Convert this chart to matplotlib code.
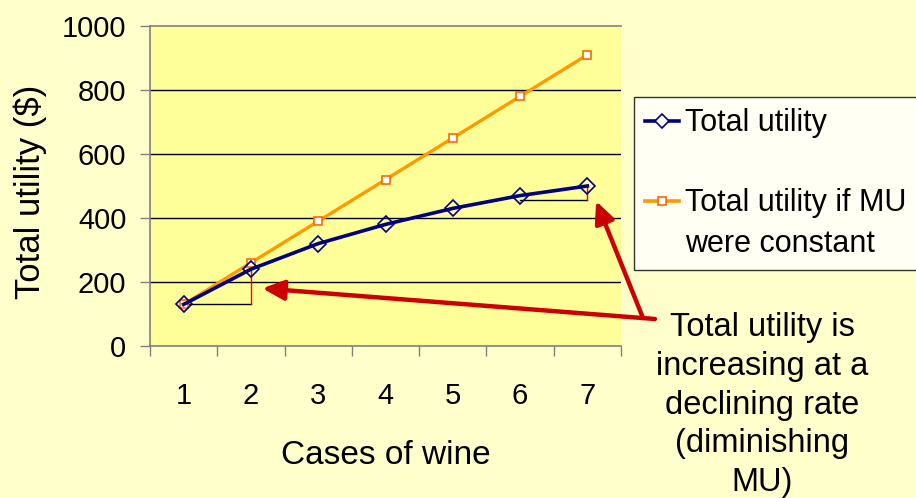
import matplotlib
matplotlib.use("Agg")
import matplotlib.pyplot as plt
from matplotlib.lines import Line2D

plt.rcParams['font.family'] = ['Liberation Sans', 'DejaVu Sans']

# Data
cases = [1, 2, 3, 4, 5, 6, 7]
total_utility = [130, 240, 320, 380, 430, 470, 500]
total_utility_constant_mu = [130, 260, 390, 520, 650, 780, 910]
y_ticks = [0, 200, 400, 600, 800, 1000]

# Slope triangles (start case, end case, base level, top level)
triangle_low = (1, 2, 130, 240)
triangle_high = (6, 7, 455, 500)

W, H = 916, 498
fig = plt.figure(figsize=(W / 100, H / 100), dpi=100)
fig.patch.set_facecolor('#FFFFCC')

ax = fig.add_axes([150 / W, 1 - 346 / H, (621 - 150) / W, (346 - 26) / H])
ax.set_facecolor('#FFFF99')

ax.set_xlim(0.5, 7.5)
ax.set_ylim(0, 1000)

# Gridlines
for yv in y_ticks[1:-1]:
    ax.axhline(yv, color='black', lw=1.0, zorder=1)

# Slope triangles
for (x0, x1, ylo, yhi) in (triangle_low, triangle_high):
    ax.plot([x0, x1], [ylo, ylo], color='black', lw=1.0, zorder=2)
    ax.plot([x1, x1], [ylo, yhi], color='#FF0000', lw=1.0, zorder=2)

# Series
ax.plot(cases, total_utility_constant_mu, color='#FF9900', lw=2.4, zorder=3,
        marker='s', markersize=5.5, markerfacecolor='white',
        markeredgecolor='#FF6600', markeredgewidth=1.2)
ax.plot(cases, total_utility, color='#000080', lw=2.6, zorder=4,
        marker='D', markersize=8, markerfacecolor='none',
        markeredgecolor='#000080', markeredgewidth=1.2)

# Axes styling
ax.spines['right'].set_visible(False)
for side in ('left', 'bottom', 'top'):
    ax.spines[side].set_color('#808080')
    ax.spines[side].set_linewidth(1.2)

ax.set_yticks(y_ticks)
ax.set_yticklabels([str(v) for v in y_ticks])
ax.tick_params(axis='y', direction='out', length=7, width=1, color='#808080',
               labelsize=21, pad=10)

# Category axis: ticks on boundaries, labels centred
ax.set_xticks([c - 0.5 for c in cases] + [cases[-1] + 0.5])
ax.set_xticklabels([])
ax.set_xticks(cases, minor=True)
ax.set_xticklabels([str(c) for c in cases], minor=True)
ax.tick_params(axis='x', which='major', direction='out', length=7, width=1,
               color='#808080')
ax.tick_params(axis='x', which='minor', length=0, labelsize=21, pad=26)

fig.text(30 / W, 1 - 192 / H, 'Total utility ($)', rotation=90,
         ha='center', va='center', fontsize=25)
fig.text(386 / W, 1 - 456 / H, 'Cases of wine', ha='center', va='center',
         fontsize=24)

# Legend: the second label wraps, so its continuation line gets its own
# handle-less row and a blank row separates the two series.
no_handle = Line2D([], [], linestyle='none')
handles = [
    Line2D([], [], color='#000080', lw=2.6, marker='D', markersize=7,
           markerfacecolor='white', markeredgecolor='#000080', markeredgewidth=1.2),
    no_handle,
    Line2D([], [], color='#FF9900', lw=2.6, marker='s', markersize=6,
           markerfacecolor='white', markeredgecolor='#FF6600', markeredgewidth=1.2),
    no_handle,
]
labels = ['Total utility', ' ', 'Total utility if MU', 'were constant']
leg = fig.legend(handles, labels,
                 loc='upper left', bbox_to_anchor=(634 / W, 1 - 97 / H),
                 bbox_transform=fig.transFigure, borderaxespad=0,
                 fontsize=22, frameon=True, fancybox=False, handlelength=1.1,
                 handletextpad=0.2, labelspacing=0.33, borderpad=0.37)
leg.get_frame().set_edgecolor('black')
leg.get_frame().set_facecolor('white')
leg.get_frame().set_linewidth(1.0)

# Callout text and arrows
fig.text(762 / W, 1 - 405 / H,
         'Total utility is\nincreasing at a\ndeclining rate\n(diminishing\nMU)',
         ha='center', va='center', multialignment='center', fontsize=23.5,
         linespacing=1.32)

arrow_style = dict(arrowstyle='-|>,head_length=1.3,head_width=0.6',
                   color='#CC0000', lw=3.2, shrinkA=0, shrinkB=0)
ax.annotate('', xy=(2.17, 180), xycoords='data',
            xytext=(655, H - 319), textcoords='figure pixels',
            arrowprops=arrow_style, annotation_clip=False)
ax.annotate('', xy=(7.13, 453), xycoords='data',
            xytext=(643, H - 318), textcoords='figure pixels',
            arrowprops=arrow_style, annotation_clip=False)

fig.savefig('out.png', dpi=100, facecolor=fig.get_facecolor())
